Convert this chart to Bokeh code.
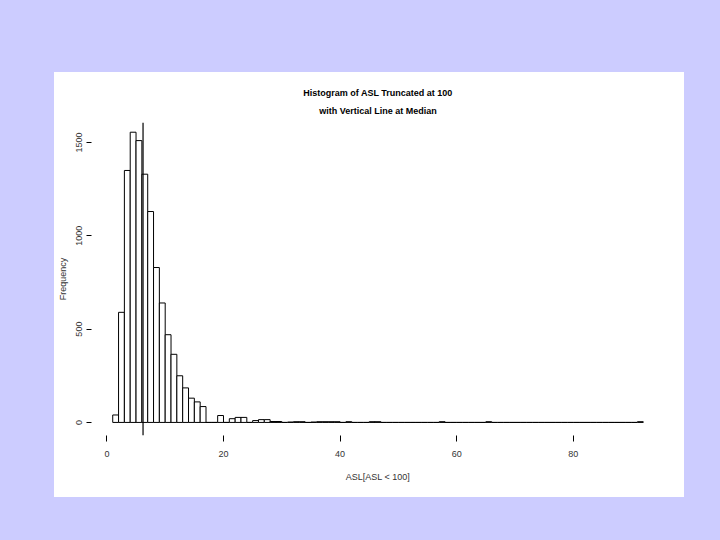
from bokeh.plotting import figure
from bokeh.models import FixedTicker, Span, Title, Spacer, ColumnDataSource
from bokeh.layouts import column, row
from bokeh.embed import file_html
from bokeh.resources import INLINE

# ---- data ----
bin_left = list(range(1, 92))          # bins [k, k+1)
counts = [40, 590, 1350, 1555, 1510, 1330, 1130, 830, 640, 470,      # 1-10
          365, 250, 185, 130, 110, 85, 0, 0, 37, 0,                   # 11-20
          20, 27, 27, 0, 10, 15, 15, 5, 5, 0,                         # 21-30
          2, 4, 4, 0, 2, 4, 4, 4, 4, 0,                               # 31-40
          4, 0, 0, 0, 4, 4, 0, 0, 0, 0,                               # 41-50
          0, 0, 0, 0, 0, 0, 4, 0, 0, 0,                               # 51-60
          0, 0, 0, 0, 4, 0, 0, 0, 0, 0,                               # 61-70
          0, 0, 0, 0, 0, 0, 0, 0, 0, 0,                               # 71-80
          0, 0, 0, 0, 0, 0, 0, 0, 0, 0,                               # 81-90
          4]                                                          # 91
median_value = 6.2
x_ticks = [0, 20, 40, 60, 80]
y_ticks = [0, 500, 1000, 1500]
title_line1 = "Histogram of ASL Truncated at 100"
title_line2 = "with Vertical Line at Median"
x_label = "ASL[ASL < 100]"
y_label = "Frequency"

FONT = "Liberation Sans Narrow, Liberation Sans"
BG = "#ccccff"

src = ColumnDataSource(dict(left=bin_left,
                            right=[b + 1 for b in bin_left],
                            top=counts,
                            bottom=[0] * len(counts)))

p = figure(width=630, height=425, output_backend="svg", toolbar_location=None,
           x_range=(-2.64, 95.64), y_range=(-70, 1607),
           min_border_left=36, min_border_right=20,
           min_border_top=50, min_border_bottom=62,
           background_fill_color="white", border_fill_color="white")
p.outline_line_color = None
p.grid.grid_line_color = None

p.quad(left="left", right="right", top="top", bottom="bottom", source=src,
       fill_color="white", line_color="black", line_width=1)

p.add_layout(Span(location=median_value, dimension="height",
                  line_color="black", line_width=1.2))

# second line first: later titles stack further from the frame
t2 = Title(text=title_line2, align="center", text_font=FONT,
           text_font_size="9px", text_font_style="bold",
           text_color="black", standoff=13, text_line_height=0.7)
t1 = Title(text=title_line1, align="center", text_font=FONT,
           text_font_size="9px", text_font_style="bold",
           text_color="black", standoff=0, text_line_height=0.7)
p.add_layout(t2, "above")
p.add_layout(t1, "above")

xa = p.xaxis[0]
xa.ticker = FixedTicker(ticks=x_ticks)
xa.axis_line_color = None
xa.minor_tick_line_color = None
xa.major_tick_in = 0
xa.major_tick_out = 6
xa.major_tick_line_color = "black"
xa.major_label_standoff = 9
xa.major_label_text_font = FONT
xa.major_label_text_font_size = "9px"
xa.major_label_text_color = "#333333"
xa.axis_label = x_label
xa.axis_label_text_font = FONT
xa.axis_label_text_font_size = "9px"
xa.axis_label_text_font_style = "normal"
xa.axis_label_text_color = "#333333"
xa.axis_label_standoff = 12

ya = p.yaxis[0]
ya.ticker = FixedTicker(ticks=y_ticks)
ya.axis_line_color = None
ya.minor_tick_line_color = None
ya.major_tick_in = 0
ya.major_tick_out = 5
ya.major_tick_line_color = "black"
ya.major_label_orientation = "vertical"
ya.major_label_standoff = 4
ya.major_label_text_font = FONT
ya.major_label_text_font_size = "9px"
ya.major_label_text_color = "#333333"
ya.axis_label = y_label
ya.axis_label_text_font = FONT
ya.axis_label_text_font_size = "9px"
ya.axis_label_text_font_style = "normal"
ya.axis_label_text_color = "#333333"
ya.axis_label_standoff = 6

panel = column(p, width=630, height=425, styles={"background-color": "white"})
inner = row(Spacer(width=54, height=425), panel)
layout = column(Spacer(width=720, height=72), inner,
                width=720, height=540, styles={"background-color": BG})

html = file_html(layout, INLINE)
style = "<style>html, body { background-color: %s !important; }</style>" % BG
html = html.replace("</head>", style + "</head>", 1)
open("out.html", "w").write(html)
